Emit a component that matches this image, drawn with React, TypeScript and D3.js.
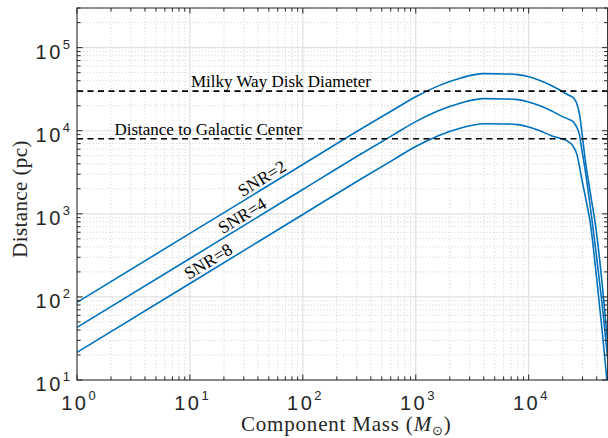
import React from "react";
import * as d3 from "d3";

// ---- data ----
const masses = [1, 10, 100, 316, 631, 1000, 1585, 2512, 3981, 6310, 7943, 10000, 12589, 15849, 19953, 22387, 25119, 26915, 28184, 29512, 31623, 35481, 39811, 44668, 50119];
const snr2 = [86, 581, 3926, 10210, 17780, 25700, 34670, 43150, 48640, 48190, 47320, 44670, 40270, 35080, 29510, 26920, 24550, 20420, 15850, 10000, 4571, 1660, 603, 148, 28];
const snr4 = [43, 290, 1963, 5105, 8913, 12880, 17380, 21580, 24320, 24100, 23660, 22130, 19950, 17380, 14790, 13800, 12590, 10720, 8913, 6026, 3388, 1096, 316, 83, 17.8];
const snr8 = [21.5, 145, 982, 2553, 4467, 6457, 8710, 10790, 12160, 12050, 11830, 11070, 10000, 8710, 7943, 7413, 6310, 5012, 3715, 2630, 1660, 708, 178, 40, 7.9];
const seriesNames = ["SNR=2", "SNR=4", "SNR=8"];
const seriesLabelMass = [48, 32, 16];

const refValues = [30000, 8000];
const refLabels = ["Milky Way Disk Diameter", "Distance to Galactic Center"];
const refLabelMass = [64, 14.5];

const xTickValues = [1, 10, 100, 1000, 10000];
const xTickExps = ["0", "1", "2", "3", "4"];
const yTickValues = [10, 100, 1000, 10000, 100000];
const yTickExps = ["1", "2", "3", "4", "5"];

const xDomain = [1, 5e4];
const yDomain = [10, 3e5];

const W = 608;
const H = 438;
const L = 77, R = 607.6, T = 8, B = 380;

const AX = "#262626";
const BLUE = "#0072BD";
const SERIF = "'Liberation Serif', 'Times New Roman', serif";
const SANS = "'Liberation Sans', Arial, Helvetica, sans-serif";

function minorValues(domain: number[]) {
  const out: number[] = [];
  for (let k = Math.floor(Math.log10(domain[0])); k <= Math.ceil(Math.log10(domain[1])); k++) {
    for (let j = 2; j <= 9; j++) {
      const v = j * Math.pow(10, k);
      if (v > domain[0] && v <= domain[1] * 1.0001) out.push(v);
    }
  }
  return out;
}

export default function App() {
  const x = d3.scaleLog().domain(xDomain).range([L, R]);
  const y = d3.scaleLog().domain(yDomain).range([B, T]);

  const xMinor = minorValues(xDomain);
  const yMinor = minorValues(yDomain);

  const allSeries = [snr2, snr4, snr8];
  const line = d3
    .line<[number, number]>()
    .x((d) => x(d[0]))
    .y((d) => y(d[1]))
    .curve(d3.curveMonotoneX);

  const majorLen = 5.5;
  const minorLen = 3.5;

  return (
    <svg
      width={W}
      height={H}
      style={{ position: "absolute", left: 0, top: 0, background: "#fff" }}
    >
      <defs>
        <clipPath id="plotclip">
          <rect x={L} y={T} width={R - L} height={B - T} />
        </clipPath>
      </defs>
      <rect x={0} y={0} width={W} height={H} fill="#fff" />

      {/* minor grid */}
      <g stroke="#c8c8c8" strokeWidth={0.8} strokeDasharray="1,2.2">
        {xMinor.map((v, i) => (
          <line key={"xm" + i} x1={x(v)} x2={x(v)} y1={T} y2={B} />
        ))}
        {yMinor.map((v, i) => (
          <line key={"ym" + i} x1={L} x2={R} y1={y(v)} y2={y(v)} />
        ))}
      </g>
      {/* major grid */}
      <g stroke="#e0e0e0" strokeWidth={1.2}>
        {xTickValues.map((v, i) => (
          <line key={"xg" + i} x1={x(v)} x2={x(v)} y1={T} y2={B} />
        ))}
        {yTickValues.map((v, i) => (
          <line key={"yg" + i} x1={L} x2={R} y1={y(v)} y2={y(v)} />
        ))}
      </g>

      {/* curves */}
      <g clipPath="url(#plotclip)" fill="none" stroke={BLUE} strokeWidth={1.6}>
        {allSeries.map((s, i) => (
          <path
            key={"s" + i}
            d={line(masses.map((m, j) => [m, s[j]] as [number, number])) || ""}
          />
        ))}
      </g>

      {/* reference dashed lines */}
      <g stroke="#000" strokeWidth={1.6} strokeDasharray="6,4.5" clipPath="url(#plotclip)">
        {refValues.map((v, i) => (
          <line key={"r" + i} x1={L} x2={R} y1={y(v)} y2={y(v)} />
        ))}
      </g>
      {refValues.map((v, i) => (
        <text
          key={"rl" + i}
          x={x(refLabelMass[i])}
          y={y(v) - 4}
          textAnchor="middle"
          fontFamily={SERIF}
          fontSize={17}
          fill="#000"
        >
          {refLabels[i]}
        </text>
      ))}

      {/* series labels along the lines */}
      {allSeries.map((s, i) => {
        const m = seriesLabelMass[i];
        const dx = x(masses[2]) - x(masses[0]);
        const dy = y(s[2]) - y(s[0]);
        const ang = (Math.atan2(dy, dx) * 180) / Math.PI;
        const logM = Math.log10(m);
        const t = (logM - Math.log10(masses[0])) / (Math.log10(masses[2]) - Math.log10(masses[0]));
        const logD = Math.log10(s[0]) + t * (Math.log10(s[2]) - Math.log10(s[0]));
        const px = x(m);
        const py = y(Math.pow(10, logD));
        return (
          <text
            key={"sl" + i}
            transform={`translate(${px},${py}) rotate(${ang})`}
            y={-3.5}
            textAnchor="middle"
            fontFamily={SERIF}
            fontSize={17.5}
            fill="#000"
          >
            {seriesNames[i]}
          </text>
        );
      })}

      {/* axes box */}
      <rect x={L} y={T} width={R - L} height={B - T} fill="none" stroke={AX} strokeWidth={1} />

      {/* ticks */}
      <g stroke={AX} strokeWidth={1}>
        {xTickValues.map((v, i) => (
          <g key={"xt" + i}>
            <line x1={x(v)} x2={x(v)} y1={B} y2={B - majorLen} />
            <line x1={x(v)} x2={x(v)} y1={T} y2={T + majorLen} />
          </g>
        ))}
        {xMinor.map((v, i) => (
          <g key={"xtm" + i}>
            <line x1={x(v)} x2={x(v)} y1={B} y2={B - minorLen} />
            <line x1={x(v)} x2={x(v)} y1={T} y2={T + minorLen} />
          </g>
        ))}
        {yTickValues.map((v, i) => (
          <g key={"yt" + i}>
            <line x1={L} x2={L + majorLen} y1={y(v)} y2={y(v)} />
            <line x1={R} x2={R - majorLen} y1={y(v)} y2={y(v)} />
          </g>
        ))}
        {yMinor.map((v, i) => (
          <g key={"ytm" + i}>
            <line x1={L} x2={L + minorLen} y1={y(v)} y2={y(v)} />
            <line x1={R} x2={R - minorLen} y1={y(v)} y2={y(v)} />
          </g>
        ))}
      </g>

      {/* tick labels */}
      {xTickValues.map((v, i) => (
        <text
          key={"xl" + i}
          x={x(v) + 1.5}
          y={B + 30}
          textAnchor="middle"
          fontFamily={SANS}
          fontSize={20}
          fill={AX}
        >
          <tspan letterSpacing={2.5}>10</tspan>
          <tspan fontSize={13} dy={-10}>
            {xTickExps[i]}
          </tspan>
        </text>
      ))}
      {yTickValues.map((v, i) => (
        <text
          key={"yl" + i}
          x={70}
          y={y(v) + 11}
          textAnchor="end"
          fontFamily={SANS}
          fontSize={20}
          fill={AX}
        >
          <tspan letterSpacing={2.5}>10</tspan>
          <tspan fontSize={13} dy={-10}>
            {yTickExps[i]}
          </tspan>
        </text>
      ))}

      {/* axis titles */}
      <text
        x={(L + R) / 2 + 4}
        y={431}
        textAnchor="middle"
        fontFamily={SERIF}
        fontSize={21}
        letterSpacing={0.8}
        fill={AX}
      >
        Component Mass (
        <tspan fontStyle="italic">M</tspan>
        <tspan fontSize={13} dy={4}>⊙</tspan>
        <tspan dy={-4}>)</tspan>
      </text>
      <text
        transform={`translate(27,${(T + B) / 2 + 5}) rotate(-90)`}
        textAnchor="middle"
        fontFamily={SERIF}
        fontSize={21}
        letterSpacing={0.4}
        fill={AX}
      >
        Distance (pc)
      </text>
    </svg>
  );
}
